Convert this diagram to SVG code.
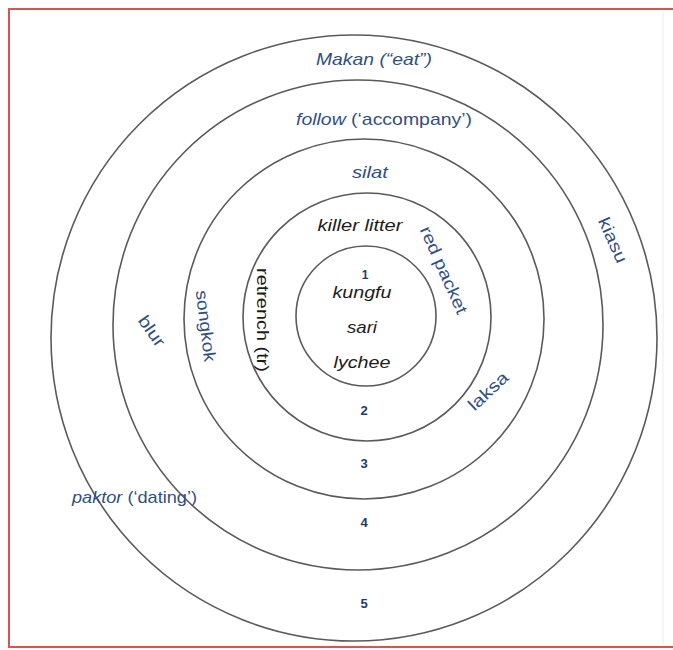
<svg xmlns="http://www.w3.org/2000/svg" width="673" height="650" viewBox="0 0 673 650">
<style>
.ring{fill:none;stroke:#5a5a5a;stroke-width:1.6}
.t{font-family:"Liberation Sans",Arial,sans-serif;font-size:17px}
.b{fill:#2f4f86}
.k{fill:#1c1c1c;font-style:italic}
.i{font-style:italic}
.n{font-family:"Liberation Sans",Arial,sans-serif;font-weight:bold;fill:#1f3a6c;text-anchor:middle}
</style>
<rect x="0" y="0" width="673" height="650" fill="#ffffff"/>
<rect x="9" y="9" width="720" height="638" fill="none" stroke="#d9534f" stroke-width="2"/>
<line x1="663" y1="12" x2="663" y2="644" stroke="#ececec" stroke-width="1"/>
<g id="rings">
<g id="ring5"><circle class="ring" cx="354" cy="338" r="303"/></g>
<g id="ring4"><circle class="ring" cx="358" cy="325" r="245"/></g>
<g id="ring3"><circle class="ring" cx="364" cy="319" r="180"/></g>
<g id="ring2"><circle class="ring" cx="367" cy="317" r="124"/></g>
<g id="ring1"><circle class="ring" cx="366" cy="316" r="70"/></g>
</g>
<g id="labels">
<text class="t b i" x="374" y="65" text-anchor="middle" textLength="116" lengthAdjust="spacingAndGlyphs">Makan (“eat”)</text>
<text class="t b" x="384" y="125" text-anchor="middle" textLength="176" lengthAdjust="spacingAndGlyphs"><tspan class="i">follow</tspan> (‘accompany’)</text>
<text class="t b i" x="370" y="178" text-anchor="middle" textLength="36" lengthAdjust="spacingAndGlyphs">silat</text>
<text class="t k" x="360" y="231" text-anchor="middle" textLength="85" lengthAdjust="spacingAndGlyphs">killer litter</text>
<text class="t k" x="362" y="298" text-anchor="middle" textLength="59" lengthAdjust="spacingAndGlyphs">kungfu</text>
<text class="t k" x="362" y="333" text-anchor="middle" textLength="30" lengthAdjust="spacingAndGlyphs">sari</text>
<text class="t k" x="362" y="368" text-anchor="middle" textLength="57" lengthAdjust="spacingAndGlyphs">lychee</text>
<text class="t" fill="#1c1c1c" transform="translate(263 320) rotate(90)" x="0" y="6" text-anchor="middle" textLength="104" lengthAdjust="spacingAndGlyphs">retrench  (tr)</text>
<text class="t b" transform="translate(444 270) rotate(66)" x="0" y="6" text-anchor="middle" textLength="94" lengthAdjust="spacingAndGlyphs">red packet</text>
<text class="t b" transform="translate(488 391) rotate(-43)" x="0" y="6" text-anchor="middle" textLength="48" lengthAdjust="spacingAndGlyphs">laksa</text>
<text class="t b" transform="translate(613 240) rotate(66)" x="0" y="6" text-anchor="middle" textLength="48" lengthAdjust="spacingAndGlyphs">kiasu</text>
<text class="t b" transform="translate(152 331) rotate(55)" x="0" y="6" text-anchor="middle" textLength="34" lengthAdjust="spacingAndGlyphs">blur</text>
<text class="t b" transform="translate(206 326) rotate(83)" x="0" y="6" text-anchor="middle" textLength="72" lengthAdjust="spacingAndGlyphs">songkok</text>
<text class="t b" x="72" y="503" textLength="125" lengthAdjust="spacingAndGlyphs"><tspan class="i">paktor</tspan> (‘dating’)</text>
<text class="n" x="365" y="279" font-size="12">1</text>
<text class="n" x="364" y="415" font-size="13">2</text>
<text class="n" x="364" y="468" font-size="13">3</text>
<text class="n" x="364" y="527" font-size="13">4</text>
<text class="n" x="364" y="608" font-size="13">5</text>
</g>
</svg>
